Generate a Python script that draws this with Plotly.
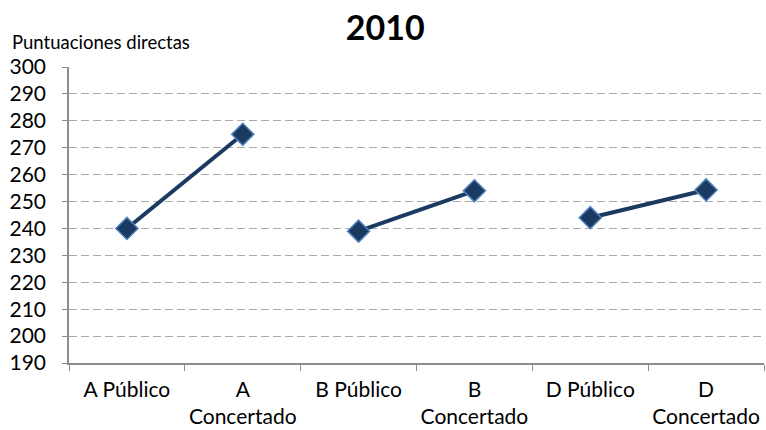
import plotly.graph_objects as go

categories = ["A Público", "A<br>Concertado", "B Público", "B<br>Concertado", "D Público", "D<br>Concertado"]
groups = [[0, 1], [2, 3], [4, 5]]
values = [240, 275, 239, 254, 244, 254.3]
y_ticks = list(range(190, 301, 10))

FONT = "Lato, Calibri, 'Open Sans', sans-serif"

fig = go.Figure()
for g in groups:
    fig.add_trace(go.Scatter(
        x=[categories[i] for i in g],
        y=[values[i] for i in g],
        mode="lines+markers",
        line=dict(color="#1B3A62", width=4),
        marker=dict(symbol="diamond", size=17, color="#1B3A62",
                    line=dict(color="#4F81BD", width=1.5)),
        showlegend=False,
        hoverinfo="x+y",
    ))

fig.update_layout(
    width=766, height=430,
    margin=dict(l=69, r=2, t=67, b=67, autoexpand=False),
    paper_bgcolor="white", plot_bgcolor="white",
    font=dict(family=FONT, color="black", size=21),
    title=dict(text="<b>2010</b>", x=0.503, xanchor="center", y=0.935, yanchor="middle",
               font=dict(family=FONT, size=34, color="black")),
    annotations=[dict(text="Puntuaciones directas", xref="paper", yref="paper",
                      x=-0.085, y=1.083, xanchor="left", yanchor="middle", showarrow=False,
                      font=dict(family=FONT, size=18.5, color="black"))],
)
fig.update_xaxes(
    type="category", categoryorder="array", categoryarray=categories,
    range=[-0.5, 5.5], tickson="boundaries", automargin=False, tickangle=0,
    showline=True, linecolor="#8C8C8C", linewidth=1.5,
    ticks="outside", ticklen=6, tickcolor="#8C8C8C",
    showgrid=False, tickfont=dict(size=21), ticklabelstandoff=7,
)
fig.update_yaxes(
    range=[190, 300], tickvals=y_ticks, automargin=False,
    showline=True, linecolor="#8C8C8C", linewidth=1.5,
    ticks="outside", ticklen=5, tickcolor="#8C8C8C",
    showgrid=True, gridcolor="#ABABAB", griddash="8px,4px", gridwidth=1,
    tickfont=dict(size=21), ticklabelstandoff=12, zeroline=False,
)

fig.write_html("out.html", config={"displayModeBar": False},
               post_script="document.body.style.margin='0';document.body.style.padding='0';")
